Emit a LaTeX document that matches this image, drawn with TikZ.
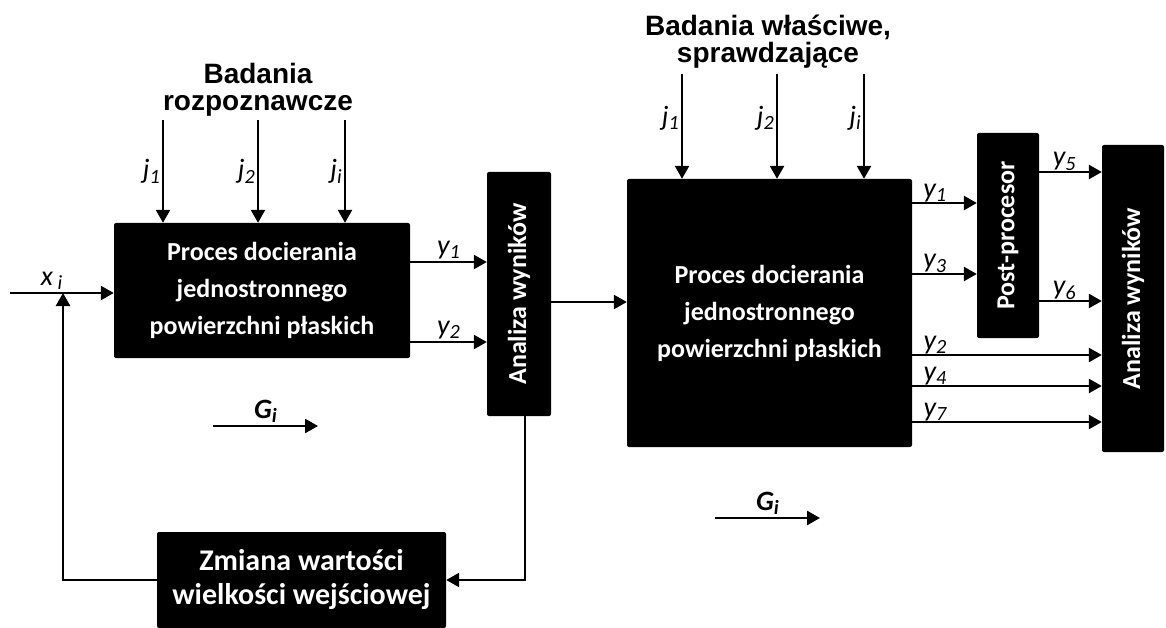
\documentclass[tikz,border=0pt]{standalone}
\usepackage{fontspec}
\usepackage{graphicx}
\setmainfont{Carlito}
\newfontfamily\tytul{Liberation Sans}
\usetikzlibrary{arrows.meta,positioning}
\tikzstyle{blok}=[fill=black,text=white,rounded corners=2pt,inner sep=0pt,align=center,font=\bfseries\fontsize{26}{37}\selectfont]
\tikzstyle{strzalka}=[draw,line width=2.5pt,-{Triangle[length=13pt,width=14pt]}]
\tikzstyle{etykieta}=[font=\itshape\fontsize{28}{30}\selectfont,inner sep=2pt]
\tikzstyle{gruba etykieta}=[etykieta,font=\bfseries\itshape\fontsize{28}{30}\selectfont]
\tikzstyle{naglowek}=[align=center,font=\tytul\bfseries\fontsize{28}{27}\selectfont]
\newcommand{\zm}[2]{#1\raisebox{-0.35ex}{\scalebox{0.72}{#2}}}

\begin{document}
\begin{tikzpicture}[x=1pt,y=-1pt]
    \useasboundingbox (0,0) rectangle (1166,628);
    % First we draw the blocks
    \node[blok,minimum width=296pt,minimum height=135pt] (proces1) at (262,290.5) {Proces docierania\\jednostronnego\\powierzchni płaskich};
    \node[blok,minimum width=64pt,minimum height=244pt] (analiza1) at (519,294) {\rotatebox{90}{Analiza wyników}};
    \node[blok,minimum width=285pt,minimum height=268pt] (proces2) at (769.5,313) {Proces docierania\\jednostronnego\\powierzchni płaskich};
    \node[blok,minimum width=62pt,minimum height=205pt] (post) at (1008,235.5) {\rotatebox{90}{Post-procesor}};
    \node[blok,minimum width=62pt,minimum height=307pt] (analiza2) at (1133,298.5) {\rotatebox{90}{Analiza wyników}};
    \node[blok,minimum width=289pt,minimum height=96pt,font=\bfseries\fontsize{30}{34}\selectfont] (zmiana) at (301.5,580) {Zmiana wartości\\wielkości wejściowej};

    \node[naglowek] (badania1) at (258,90) {Badania\\rozpoznawcze};
    \node[naglowek] (badania2) at (768,42) {Badania właściwe,\\sprawdzające};

    % inputs j from above
    \foreach \xx/\nr in {163/1, 258/2, 345/i} {
        \coordinate (ja\nr) at (\xx,120);
        \draw[strzalka] (ja\nr) -- (ja\nr |- proces1.north) node[etykieta,pos=0.5,left] {\zm{j}{\nr}};
    }
    \foreach \xx/\nr in {682/1, 777/2, 864/i} {
        \coordinate (jb\nr) at (\xx,74);
        \draw[strzalka] (jb\nr) -- (jb\nr |- proces2.north) node[etykieta,pos=0.42,left] {\zm{j}{\nr}};
    }

    % Connect blocks with outputs
    \foreach \yy/\nr in {262/1, 342/2} {
        \coordinate (v\nr) at (0,\yy);
        \draw[strzalka] (proces1.east |- v\nr) -- (analiza1.west |- v\nr) node[etykieta,midway,above] {\zm{y}{\nr}};
    }
    \coordinate (v3) at (0,302);
    \draw[strzalka] (analiza1.east |- v3) -- (proces2.west |- v3);
    \foreach \yy/\nr/\od/\cel/\poz in {203/1/proces2/post/0.35, 274/3/proces2/post/0.35, 172/5/post/analiza2/0.4, 301/6/post/analiza2/0.4, 355/2/proces2/analiza2/0.12, 386/4/proces2/analiza2/0.12, 422/7/proces2/analiza2/0.12} {
        \coordinate (w\nr) at (0,\yy);
        \draw[strzalka] (\od.east |- w\nr) -- (\cel.west |- w\nr) node[etykieta,pos=\poz,above,inner sep=0pt] {\zm{y}{\nr}};
    }

    % input and feedback loop
    \coordinate (wejscie) at (10,293);
    \coordinate (petla) at (63,293);
    \draw[strzalka] (wejscie) -- (wejscie -| proces1.west) node[etykieta,pos=0.4,above] {x\,\raisebox{-0.35ex}{\scalebox{0.72}{i}}};
    \draw[strzalka] ([xshift=6pt]analiza1.south) |- (zmiana.east);
    \draw[strzalka] (zmiana.west) -| (petla);

    % G_i
    \coordinate (g1) at (213,426);
    \coordinate (g2) at (318,426);
    \draw[strzalka] (g1) -- (g2) node[gruba etykieta,midway,above] {\zm{G}{i}};
    \coordinate (g3) at (715,518);
    \coordinate (g4) at (820,518);
    \draw[strzalka] (g3) -- (g4) node[gruba etykieta,midway,above] {\zm{G}{i}};
\end{tikzpicture}
\end{document}
